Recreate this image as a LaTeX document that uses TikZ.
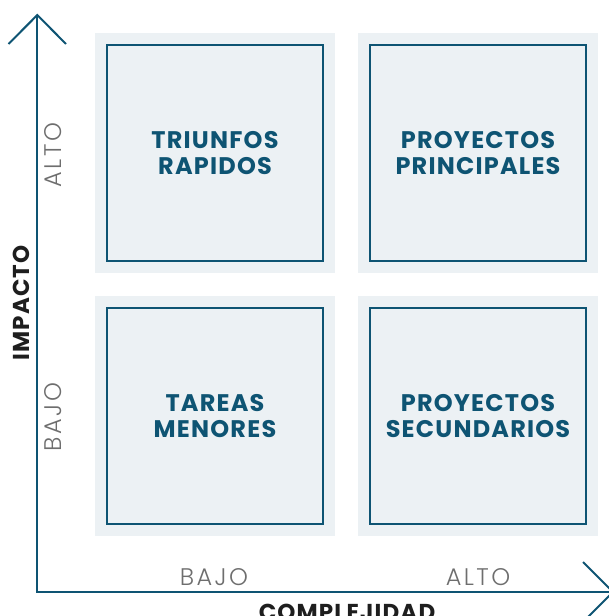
\documentclass[tikz,border=0pt]{standalone}
\usepackage{fontspec}
\setmainfont{Poppins}
\newfontfamily\boldwide{Poppins}[LetterSpace=5]
\newfontfamily\thinfont{Poppins Light}[LetterSpace=10]
\definecolor{axisblue}{HTML}{0E5473}
\definecolor{boxfill}{HTML}{ECF1F4}
\definecolor{thingray}{HTML}{6E6E6E}
\definecolor{darktext}{HTML}{1E1E1E}
\tikzset{
  bgsq/.style={fill=boxfill, draw=none, minimum width=240pt, minimum height=240pt, inner sep=0pt},
  quadbox/.style={draw=axisblue, line width=2pt, fill=boxfill, minimum width=216pt, minimum height=216pt,
    inner sep=0pt, align=center, text=axisblue, font=\boldwide\bfseries\fontsize{24}{26.6}\selectfont},
  axisline/.style={draw=axisblue, line width=2pt},
  thinlabel/.style={text=thingray, font=\thinfont\fontsize{24}{26}\selectfont, inner sep=0pt},
  axistitle/.style={text=darktext, font=\boldwide\bfseries\fontsize{23}{26}\selectfont, inner sep=0pt}
}
\begin{document}
\begin{tikzpicture}[x=1pt,y=-1pt]
\useasboundingbox (0,0) rectangle (608,616);
% background squares
\node[bgsq] (bgTL) at (215,153) {};
\node[bgsq] (bgTR) at (478,153) {};
\node[bgsq] (bgBL) at (215,416) {};
\node[bgsq] (bgBR) at (478,416) {};
% quadrant boxes
\node[quadbox] (qTL) at (bgTL.center) {TRIUNFOS\\RAPIDOS};
\node[quadbox] (qTR) at (bgTR.center) {PROYECTOS\\PRINCIPALES};
\node[quadbox] (qBL) at (bgBL.center) {TAREAS\\MENORES};
\node[quadbox] (qBR) at (bgBR.center) {PROYECTOS\\SECUNDARIOS};
% axes
\coordinate (origin) at (37.3,592);
\coordinate (ytip) at (37.3,15);
\coordinate (xtip) at (613,592);
\coordinate (ywl) at (8.5,44);
\coordinate (ywr) at (66,44);
\coordinate (xwu) at (583,562);
\coordinate (xwd) at (583,622);
\draw[axisline] (ytip) -- (origin) -- (xtip);
\draw[axisline] (ywl) -- (ytip) -- (ywr);
\draw[axisline] (xwu) -- (xtip) -- (xwd);
% axis labels
\node[thinlabel] (xlow) at (214,577) {BAJO};
\node[thinlabel] (xhigh) at (478,577) {ALTO};
\node[thinlabel, rotate=90] (yhigh) at (53.5,155) {ALTO};
\node[thinlabel, rotate=90] (ylow) at (53.5,417) {BAJO};
\node[axistitle, rotate=90] (ytitle) at (21,303) {IMPACTO};
\node[axistitle] (xtitle) at (347,612) {COMPLEJIDAD};
\end{tikzpicture}
\end{document}
